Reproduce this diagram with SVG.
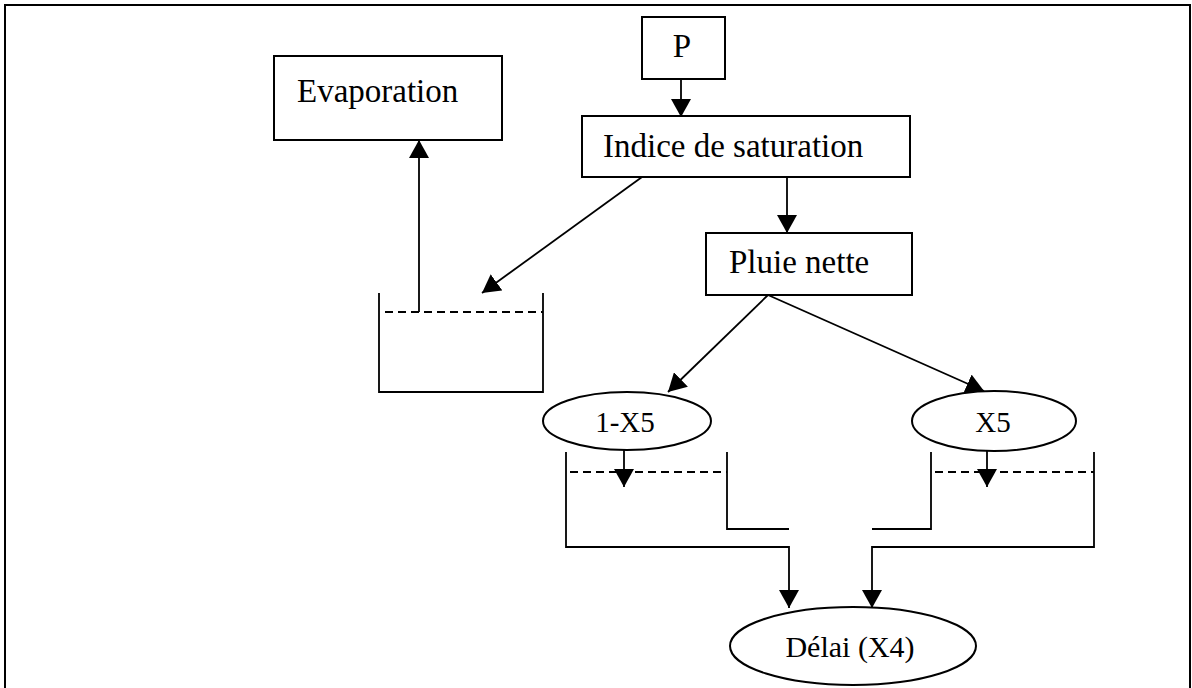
<svg xmlns="http://www.w3.org/2000/svg" width="1192" height="688" viewBox="0 0 1192 688">
<defs>
<marker id="ah" markerUnits="userSpaceOnUse" markerWidth="18" markerHeight="20" refX="18" refY="10" orient="auto">
<path d="M0,0 L18,10 L0,20 z" fill="#000"/>
</marker>
<style>
.box{fill:#fff;stroke:#000;stroke-width:2}
.ln{fill:none;stroke:#000;stroke-width:1.8}
.dash{fill:none;stroke:#000;stroke-width:2;stroke-dasharray:8,5}
.arr{fill:none;stroke:#000;stroke-width:1.8;marker-end:url(#ah)}
.t{font-family:"Liberation Serif","Times New Roman",serif;fill:#000}
</style>
</defs>
<rect x="0" y="0" width="1192" height="688" fill="#fff"/>
<path d="M5,700 V5 H1190 V700" fill="none" stroke="#000" stroke-width="2"/>

<g id="connectors">
<line class="arr" x1="681" y1="79" x2="681" y2="117"/>
<line class="arr" x1="787" y1="177" x2="787" y2="233"/>
<line class="arr" x1="642" y1="177" x2="482" y2="293"/>
<line class="arr" x1="419" y1="312" x2="419" y2="140"/>
<line class="arr" x1="768" y1="295" x2="668" y2="392"/>
<line class="arr" x1="768" y1="295" x2="984" y2="391"/>
<line class="arr" x1="624" y1="450" x2="624" y2="487"/>
<line class="arr" x1="987" y1="451" x2="987" y2="487"/>
<path class="arr" d="M566,452 V547 H789 V608"/>
<path class="arr" d="M1094,452 V547 H872 V608"/>
</g>

<g id="reservoir-evap">
<path class="ln" d="M379,293 V392 H543 V293"/>
<line class="dash" x1="385" y1="312" x2="543" y2="312"/>
</g>

<g id="reservoir-left">
<path class="ln" d="M727,452 V529 H789"/>
<line class="dash" x1="570" y1="472" x2="727" y2="472"/>
</g>

<g id="reservoir-right">
<path class="ln" d="M931,452 V529 H872"/>
<line class="dash" x1="935" y1="472" x2="1094" y2="472"/>
</g>

<g id="evaporation">
<rect class="box" x="274" y="56" width="228" height="84"/>
<text class="t" x="297" y="102" font-size="33">Evaporation</text>
</g>

<g id="p">
<rect class="box" x="642" y="17" width="83" height="62"/>
<text class="t" x="682" y="57" font-size="33" text-anchor="middle">P</text>
</g>

<g id="indice">
<rect class="box" x="582" y="116" width="328" height="61"/>
<text class="t" x="603" y="157" font-size="33">Indice de saturation</text>
</g>

<g id="pluie">
<rect class="box" x="706" y="233" width="206" height="62"/>
<text class="t" x="729" y="273" font-size="33">Pluie nette</text>
</g>

<g id="x5-1">
<ellipse class="box" cx="627" cy="421" rx="84" ry="29"/>
<text class="t" x="625" y="432" font-size="29" text-anchor="middle">1-X5</text>
</g>

<g id="x5">
<ellipse class="box" cx="994" cy="421" rx="82" ry="30"/>
<text class="t" x="993" y="432" font-size="29" text-anchor="middle">X5</text>
</g>

<g id="delai">
<ellipse class="box" cx="853" cy="646" rx="123" ry="39"/>
<text class="t" x="850" y="657" font-size="30" text-anchor="middle">Délai (X4)</text>
</g>
</svg>
